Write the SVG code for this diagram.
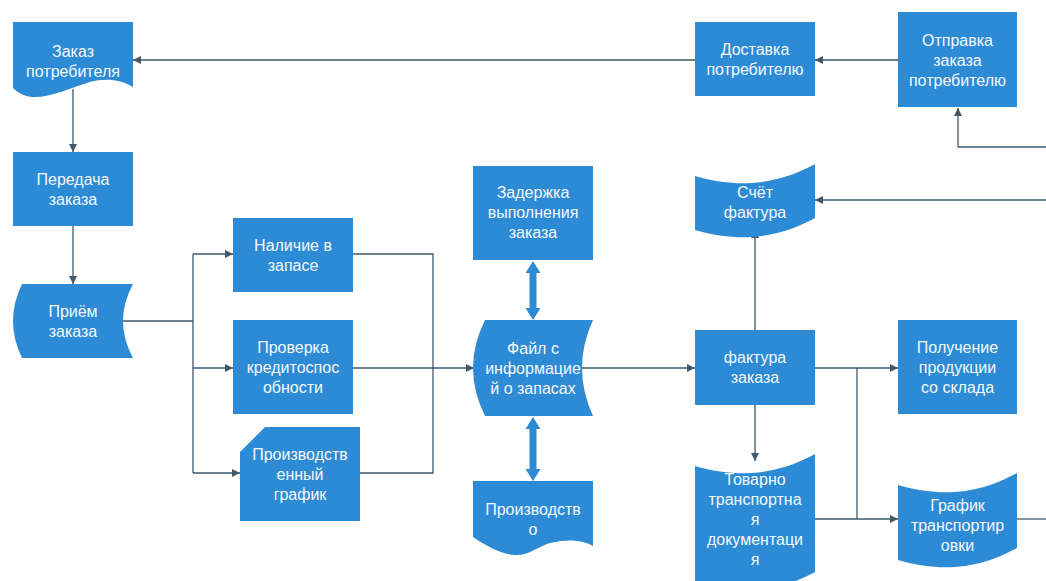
<svg xmlns="http://www.w3.org/2000/svg" width="1046" height="581" viewBox="0 0 1046 581">
<defs>
<style>
.n{fill:#2D8BD6;}
.t{font-family:"Liberation Sans",Arial,sans-serif;font-size:16px;fill:#F4F8FC;text-anchor:middle;}
.c{fill:none;stroke:#41596B;stroke-width:1.3;}
.a{marker-end:url(#ah);}
.d{fill:#2D8BD6;}
</style>
<marker id="ah" viewBox="0 0 10 10" refX="10" refY="5" markerUnits="userSpaceOnUse" markerWidth="9" markerHeight="8" orient="auto">
<path d="M0,0 L10,5 L0,10 Z" fill="#41596B"/>
</marker>
</defs>
<rect width="1046" height="581" fill="#FFFFFF"/>

<g id="connectors">
<path class="c a" d="M695,60 H133"/>
<path class="c a" d="M898,60 H815"/>
<path class="c a" d="M1046,147 H958 V108"/>
<path class="c a" d="M73,89 V152"/>
<path class="c a" d="M73,226 V284"/>
<path class="c" d="M123,321 H193 M193,254 V473"/>
<path class="c a" d="M193,254 H233"/>
<path class="c a" d="M193,368 H233"/>
<path class="c a" d="M193,473 H240"/>
<path class="c" d="M353,254 H433 V473 H360"/>
<path class="c a" d="M353,368 H474"/>
<path class="c a" d="M582,368 H695"/>
<path class="c a" d="M755,330 V230"/>
<path class="c a" d="M1046,200 H815"/>
<path class="c a" d="M815,368 H898"/>
<path class="c" d="M857,368 V519"/>
<path class="c a" d="M755,405 V461"/>
<path class="c a" d="M815,519 H898"/>
<path class="c" d="M1017,519 H1046"/>
<path class="d" d="M533,261 L540.5,273 L536.5,273 L536.5,308 L540.5,308 L533,320 L525.5,308 L529.5,308 L529.5,273 L525.5,273 Z"/>
<path class="d" d="M533,417 L540.5,429 L536.5,429 L536.5,469 L540.5,469 L533,481 L525.5,469 L529.5,469 L529.5,429 L525.5,429 Z"/>
</g>

<g id="zakaz">
<path class="n" d="M13,22 H133 V87 C120,79 105,78 90,82 C70,88 50,98 32,97 C24,96 18,93 13,88 Z"/>
<text class="t" x="73" y="57">Заказ</text>
<text class="t" x="73" y="77">потребителя</text>
</g>

<g id="dostavka">
<rect class="n" x="695" y="22" width="120" height="74"/>
<text class="t" x="755" y="54.5">Доставка</text>
<text class="t" x="755" y="74.5">потребителю</text>
</g>

<g id="otpravka">
<rect class="n" x="898" y="12" width="119" height="95"/>
<text class="t" x="957.5" y="45.5">Отправка</text>
<text class="t" x="957.5" y="65.5">заказа</text>
<text class="t" x="957.5" y="85.5">потребителю</text>
</g>

<g id="peredacha">
<rect class="n" x="13" y="152" width="120" height="74"/>
<text class="t" x="73" y="184.5">Передача</text>
<text class="t" x="73" y="204.5">заказа</text>
</g>

<g id="priem">
<path class="n" d="M22,284 H133 Q113,321 133,358 H22 Q4,321 22,284 Z"/>
<text class="t" x="73" y="316.5">Приём</text>
<text class="t" x="73" y="336.5">заказа</text>
</g>

<g id="nalichie">
<rect class="n" x="233" y="218" width="120" height="74"/>
<text class="t" x="293" y="250.5">Наличие в</text>
<text class="t" x="293" y="270.5">запасе</text>
</g>

<g id="proverka">
<rect class="n" x="233" y="320" width="120" height="94"/>
<text class="t" x="293" y="352.5">Проверка</text>
<text class="t" x="293" y="372.5">кредитоспос</text>
<text class="t" x="293" y="392.5">обности</text>
</g>

<g id="grafik-proizv">
<path class="n" d="M265,427 H360 V521 H240 V452 Z"/>
<text class="t" x="300" y="459.5">Производств</text>
<text class="t" x="300" y="479.5">енный</text>
<text class="t" x="300" y="499.5">график</text>
</g>

<g id="zaderzhka">
<rect class="n" x="473" y="166" width="120" height="94"/>
<text class="t" x="533" y="198">Задержка</text>
<text class="t" x="533" y="218">выполнения</text>
<text class="t" x="533" y="238">заказа</text>
</g>

<g id="fail">
<path class="n" d="M485,320 H593 Q571,368 593,416 H485 Q461,368 485,320 Z"/>
<text class="t" x="533" y="354">Файл с</text>
<text class="t" x="533" y="374">информацие</text>
<text class="t" x="533" y="394">й о запасах</text>
</g>

<g id="proizvodstvo">
<path class="n" d="M473,481 H593 V546 C585,541 570,538 550,543 C535,548 528,556 515,555 C500,554 485,545 473,537 Z"/>
<text class="t" x="533" y="515">Производств</text>
<text class="t" x="533" y="535">о</text>
</g>

<g id="schet">
<path class="n" d="M695,176 C715,182 735,184 752,183 C780,181 800,172 815,164 L815,218 C800,226 780,235 752,237 C735,238 715,236 695,230 Z"/>
<text class="t" x="755" y="198">Счёт</text>
<text class="t" x="755" y="218">фактура</text>
</g>

<g id="faktura">
<rect class="n" x="695" y="330" width="120" height="75"/>
<text class="t" x="755" y="363">фактура</text>
<text class="t" x="755" y="383">заказа</text>
</g>

<g id="poluchenie">
<rect class="n" x="898" y="320" width="119" height="94"/>
<text class="t" x="957.5" y="352.5">Получение</text>
<text class="t" x="957.5" y="372.5">продукции</text>
<text class="t" x="957.5" y="392.5">со склада</text>
</g>

<g id="tovarno">
<path class="n" d="M695,466 C715,472 735,474 752,473 C780,471 800,462 815,454 L815,572 C800,580 780,589 752,591 C735,592 715,590 695,584 Z"/>
<text class="t" x="755" y="485">Товарно</text>
<text class="t" x="755" y="505">транспортна</text>
<text class="t" x="755" y="525">я</text>
<text class="t" x="755" y="545">документаци</text>
<text class="t" x="755" y="565">я</text>
</g>

<g id="grafik-transp">
<path class="n" d="M898,485 C918,491 938,493 955,492 C983,490 1002,481 1017,473 L1017,548 C1002,556 983,565 955,567 C938,568 918,566 898,560 Z"/>
<text class="t" x="957.5" y="511">График</text>
<text class="t" x="957.5" y="531">транспортир</text>
<text class="t" x="957.5" y="551">овки</text>
</g>
</svg>
